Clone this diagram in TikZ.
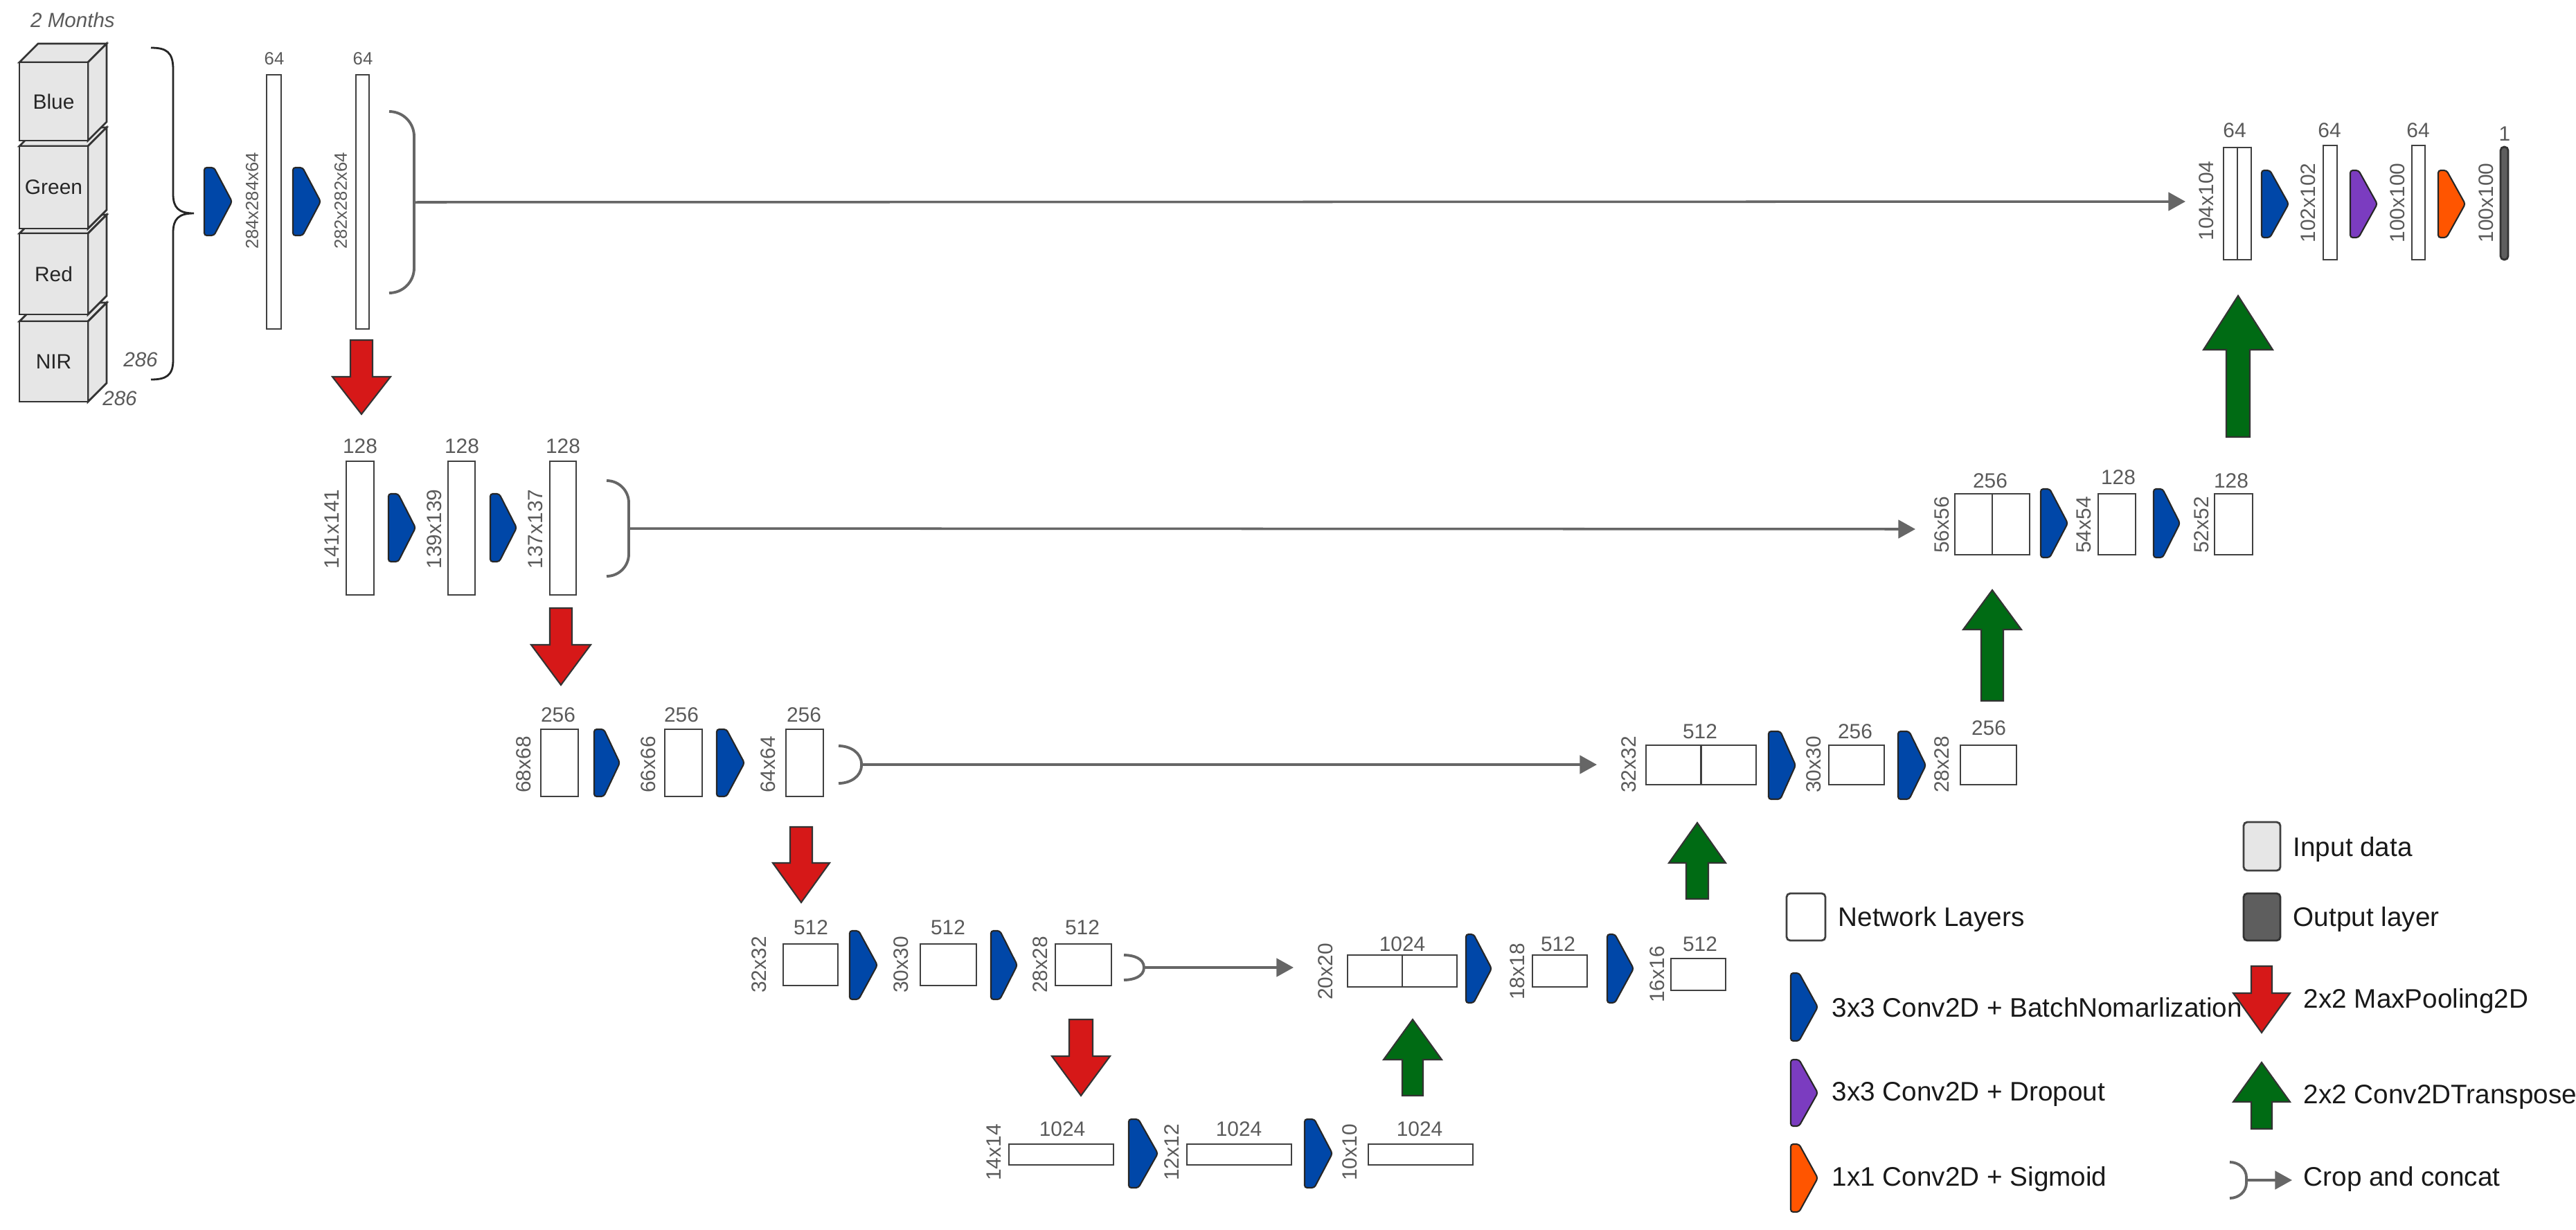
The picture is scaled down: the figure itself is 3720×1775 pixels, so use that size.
\documentclass[tikz,border=0pt]{standalone}
\usepackage{fontspec}
\setmainfont{Liberation Sans}
\usetikzlibrary{fit,arrows.meta}
\definecolor{labgray}{HTML}{5A5A5A}
\definecolor{lngray}{HTML}{666666}
\definecolor{cblue}{HTML}{0047A8}
\definecolor{cpurple}{HTML}{7B3CC0}
\definecolor{corange}{HTML}{FF5500}
\definecolor{cred}{HTML}{D61818}
\definecolor{cgreen}{HTML}{006B14}
\definecolor{cinput}{HTML}{E6E6E6}
\definecolor{cout}{HTML}{5E5E5E}
\tikzset{
 box/.style={draw=black!75, fill=white, line width=0.8pt, inner sep=0pt},
 lab/.style={font=\fontsize{8.5}{10}\selectfont, text=labgray, inner sep=0pt},
 slab/.style={font=\fontsize{7.3}{9}\selectfont, text=labgray, inner sep=0pt},
 leg/.style={font=\fontsize{11}{13}\selectfont, text=black!90, anchor=west, inner sep=0pt},
 skip/.style={draw=lngray, line width=1pt, -{Triangle[length=7pt,width=7.5pt]}},
 bracket/.style={draw=lngray, line width=1.1pt},
}
% layer box: name x1 x2 y1 y2
\newcommand\lyr[5]{\node[box, fit={(#2,#4)(#3,#5)}] (#1) {};}
% conv shape: x1 xf x2 y1 y2 colour
\newcommand\conv[6]{\filldraw[fill=#6, draw=black!85, line width=0.6pt, rounded corners=1pt] (#1,#4) -- (#2,#4) -- (#3,{(#4+#5)/2}) -- (#2,#5) -- (#1,#5) -- cycle;}
% block arrow: xc shafthalf headhalf yend yneck ytip colour
\newcommand\barr[7]{\filldraw[fill=#7, draw=black!80, line width=0.6pt] ({#1-#2},#4) -- ({#1+#2},#4) -- ({#1+#2},#5) -- ({#1+#3},#5) -- (#1,#6) -- ({#1-#3},#5) -- ({#1-#2},#5) -- cycle;}
% crop bracket: name x1 x2 y1 y2 r
\newcommand\crop[6]{\draw[bracket] (#2,#4) to[out=0,in=90] (#3,{#4+#6}) -- (#3,{#5-#6}) to[out=-90,in=0] (#2,#5);
 \coordinate (#1) at (#3,{(#4+#5)/2});}
% cube box: y1 y2 text name
\newcommand\cubebox[4]{\filldraw[fill=cinput, draw=black!80, line width=0.8pt] (28,#1) -- (55,{#1-27}) -- (154,{#1-27}) -- (127,#1) -- cycle;
 \filldraw[fill=cinput, draw=black!80, line width=0.8pt] (127,#1) -- (154,{#1-27}) -- (154,{#2-27}) -- (127,#2) -- cycle;
 \node[draw=black!80, fill=cinput, line width=0.8pt, inner sep=0pt, fit={(28,#1)(127,#2)}] (#4) {};
 \node[font=\fontsize{8.5}{10}\selectfont, text=black!85] at (#4.center) {#3};}
\begin{document}
\begin{tikzpicture}[x=0.01cm, y=-0.01cm]
\useasboundingbox (0,0) rectangle (3720,1775);
% ---- input cube
\node[font=\itshape\fontsize{8.4}{10}\selectfont, text=labgray] (months) at (105,29) {2 Months};
\cubebox{464}{580}{NIR}{nir}
\cubebox{337}{454}{Red}{red}
\cubebox{211}{330}{Green}{green}
\cubebox{90}{203}{Blue}{blue}
\node[font=\itshape\fontsize{8.4}{10}\selectfont, text=labgray] (d1) at (203,519) {286};
\node[font=\itshape\fontsize{8.4}{10}\selectfont, text=labgray] (d2) at (173,575) {286};
% brace
\draw[black!85, line width=0.8pt] (218,69) .. controls (240,69) and (250,75) .. (250,100) -- (250,280) .. controls (250,300) and (258,308) .. (280,308) .. controls (258,308) and (250,316) .. (250,336) -- (250,520) .. controls (250,542) and (240,548) .. (218,548);
% ---- row 1
\conv{295}{309}{335}{242}{340}{cblue}
\lyr{l1a}{385}{406}{108}{475}
\conv{423}{437}{463}{242}{340}{cblue}
\lyr{l1b}{514}{533}{108}{475}
\node[slab] at (396,85) {64};
\node[slab] at (524,85) {64};
\node[slab, rotate=90] at (364,290) {284x284x64};
\node[slab, rotate=90] at (492,290) {282x282x64};
\crop{cb1}{562}{598}{161}{423}{36}
\coordinate (e1) at (3156,291);
\draw[skip] (cb1) -- (e1);
% top right
\lyr{cat1}{3211}{3251}{213}{375}
\draw[black!75, line width=0.8pt] (cat1.north) -- (cat1.south);
\conv{3266}{3278}{3305}{246}{343}{cblue}
\lyr{r1b}{3355}{3375}{210}{375}
\conv{3394}{3406}{3433}{246}{343}{cpurple}
\lyr{r1c}{3483}{3502}{210}{375}
\conv{3521}{3533}{3560}{246}{343}{corange}
\node[draw=black!80, fill=cout, line width=0.8pt, inner sep=0pt, rounded corners=1.5pt, fit={(3611,212)(3622,375)}] (outl) {};
\node[lab] at (3227,188) {64};
\node[lab] at (3364,188) {64};
\node[lab] at (3492,188) {64};
\node[lab] at (3617,193) {1};
\node[lab, rotate=90] at (3186,290) {104x104};
\node[lab, rotate=90] at (3333,293) {102x102};
\node[lab, rotate=90] at (3462,293) {100x100};
\node[lab, rotate=90] at (3590,293) {100x100};
% ---- row 2
\barr{522}{16}{42}{491}{544}{598}{cred}
\lyr{l2a}{500}{540}{666}{859}
\conv{561}{575}{600}{713}{811}{cblue}
\lyr{l2b}{647}{686}{666}{859}
\conv{708}{721}{746}{713}{811}{cblue}
\lyr{l2c}{794}{832}{666}{859}
\node[lab] at (520,644) {128};
\node[lab] at (667,644) {128};
\node[lab] at (813,644) {128};
\node[lab, rotate=90] at (479,764) {141x141};
\node[lab, rotate=90] at (627,764) {139x139};
\node[lab, rotate=90] at (773,764) {137x137};
\crop{cb2}{876}{908}{694}{832}{32}
\coordinate (e2) at (2766,764);
\draw[skip] (cb2) -- (e2);
% row 2 right
\lyr{cat2}{2823}{2931}{713}{801}
\draw[black!75, line width=0.8pt] (cat2.north) -- (cat2.south);
\conv{2947}{2960}{2986}{706}{805}{cblue}
\lyr{r2b}{3030}{3084}{713}{801}
\conv{3110}{3123}{3148}{706}{805}{cblue}
\lyr{r2c}{3198}{3253}{713}{801}
\node[lab] at (2874,694) {256};
\node[lab] at (3059,689) {128};
\node[lab] at (3222,694) {128};
\node[lab, rotate=90] at (2804,758) {56x56};
\node[lab, rotate=90] at (3009,758) {54x54};
\node[lab, rotate=90] at (3179,758) {52x52};
\barr{3232}{17}{50}{631}{505}{427}{cgreen}
% ---- row 3
\barr{810}{16}{43}{878}{931}{989}{cred}
\lyr{l3a}{781}{835}{1053}{1150}
\conv{858}{872}{895}{1053}{1150}{cblue}
\lyr{l3b}{960}{1014}{1053}{1150}
\conv{1035}{1049}{1075}{1053}{1150}{cblue}
\lyr{l3c}{1135}{1189}{1053}{1150}
\node[lab] at (806,1032) {256};
\node[lab] at (984,1032) {256};
\node[lab] at (1161,1032) {256};
\node[lab, rotate=90] at (756,1104) {68x68};
\node[lab, rotate=90] at (936,1104) {66x66};
\node[lab, rotate=90] at (1109,1104) {64x64};
\crop{cb3}{1211}{1244}{1077}{1131}{26}
\coordinate (e3) at (2306,1104);
\draw[skip] (cb3) -- (e3);
% row 3 right
\lyr{cat3}{2377}{2536}{1076}{1133}
\draw[black!75, line width=0.8pt] (cat3.north) -- (cat3.south);
\conv{2554}{2571}{2593}{1056}{1154}{cblue}
\lyr{r3b}{2641}{2721}{1076}{1133}
\conv{2741}{2757}{2781}{1056}{1154}{cblue}
\lyr{r3c}{2831}{2912}{1076}{1133}
\node[lab] at (2455,1056) {512};
\node[lab] at (2679,1056) {256};
\node[lab] at (2872,1051) {256};
\node[lab, rotate=90] at (2352,1104) {32x32};
\node[lab, rotate=90] at (2619,1104) {30x30};
\node[lab, rotate=90] at (2804,1104) {28x28};
\barr{2877}{16}{42}{1012}{909}{852}{cgreen}
% ---- row 4
\barr{1157}{16}{41}{1194}{1246}{1303}{cred}
\lyr{l4a}{1131}{1210}{1363}{1423}
\conv{1227}{1240}{1267}{1344}{1443}{cblue}
\lyr{l4b}{1329}{1410}{1363}{1423}
\conv{1431}{1444}{1469}{1344}{1443}{cblue}
\lyr{l4c}{1524}{1605}{1363}{1423}
\node[lab] at (1171,1339) {512};
\node[lab] at (1369,1339) {512};
\node[lab] at (1563,1339) {512};
\node[lab, rotate=90] at (1096,1393) {32x32};
\node[lab, rotate=90] at (1301,1393) {30x30};
\node[lab, rotate=90] at (1502,1393) {28x28};
\crop{cb4}{1623}{1652}{1379}{1415}{18}
\coordinate (e4) at (1868,1397);
\draw[skip] (cb4) -- (e4);
\lyr{cat4}{1946}{2104}{1379}{1425}
\draw[black!75, line width=0.8pt] (cat4.north) -- (cat4.south);
\conv{2117}{2128}{2154}{1349}{1448}{cblue}
\lyr{r4b}{2213}{2292}{1379}{1425}
\conv{2321}{2332}{2359}{1349}{1448}{cblue}
\lyr{r4c}{2413}{2492}{1384}{1430}
\node[lab] at (2025,1363) {1024};
\node[lab] at (2250,1363) {512};
\node[lab] at (2455,1363) {512};
\node[lab, rotate=90] at (1914,1403) {20x20};
\node[lab, rotate=90] at (2191,1403) {18x18};
\node[lab, rotate=90] at (2393,1407) {16x16};
\barr{2451}{16}{41}{1298}{1246}{1188}{cgreen}
% ---- row 5
\barr{1561}{17}{42}{1472}{1525}{1582}{cred}
\barr{2040}{15}{42}{1582}{1530}{1472}{cgreen}
\lyr{l5a}{1457}{1608}{1652}{1682}
\conv{1630}{1644}{1672}{1616}{1715}{cblue}
\lyr{l5b}{1714}{1865}{1652}{1682}
\conv{1884}{1898}{1924}{1616}{1715}{cblue}
\lyr{l5c}{1976}{2127}{1652}{1682}
\node[lab] at (1534,1630) {1024};
\node[lab] at (1789,1630) {1024};
\node[lab] at (2050,1630) {1024};
\node[lab, rotate=90] at (1435,1664) {14x14};
\node[lab, rotate=90] at (1692,1664) {12x12};
\node[lab, rotate=90] at (1949,1664) {10x10};
% ---- legend
\node[draw=black!75, fill=cinput, line width=0.8pt, inner sep=0pt, rounded corners=1.5pt, fit={(3240,1187)(3293,1257)}] (kin) {};
\node[leg] at (3311,1226) {Input data};
\node[box, rounded corners=1.5pt, fit={(2580,1290)(2636,1358)}] (knet) {};
\node[leg] at (2654,1327) {Network Layers};
\node[draw=black!80, fill=cout, line width=0.8pt, inner sep=0pt, rounded corners=1.5pt, fit={(3240,1290)(3293,1358)}] (kout) {};
\node[leg] at (3311,1327) {Output layer};
\conv{2586}{2598}{2625}{1405}{1503}{cblue}
\node[leg] at (2645,1455) {3x3 Conv2D + BatchNomarlization};
\barr{3266}{15}{41}{1395}{1434}{1491}{cred}
\node[leg] at (3326,1445) {2x2 MaxPooling2D};
\conv{2586}{2598}{2625}{1530}{1626}{cpurple}
\node[leg] at (2645,1580) {3x3 Conv2D + Dropout};
\barr{3266}{15}{41}{1630}{1591}{1534}{cgreen}
\node[leg] at (3326,1584) {2x2 Conv2DTranspose};
\conv{2586}{2598}{2625}{1652}{1750}{corange}
\node[leg] at (2645,1702) {1x1 Conv2D + Sigmoid};
\crop{kcb}{3220}{3244}{1678}{1730}{22}
\coordinate (ke) at (3310,1704);
\draw[skip] (kcb) -- (ke);
\node[leg] at (3326,1702) {Crop and concat};
\end{tikzpicture}
\end{document}
